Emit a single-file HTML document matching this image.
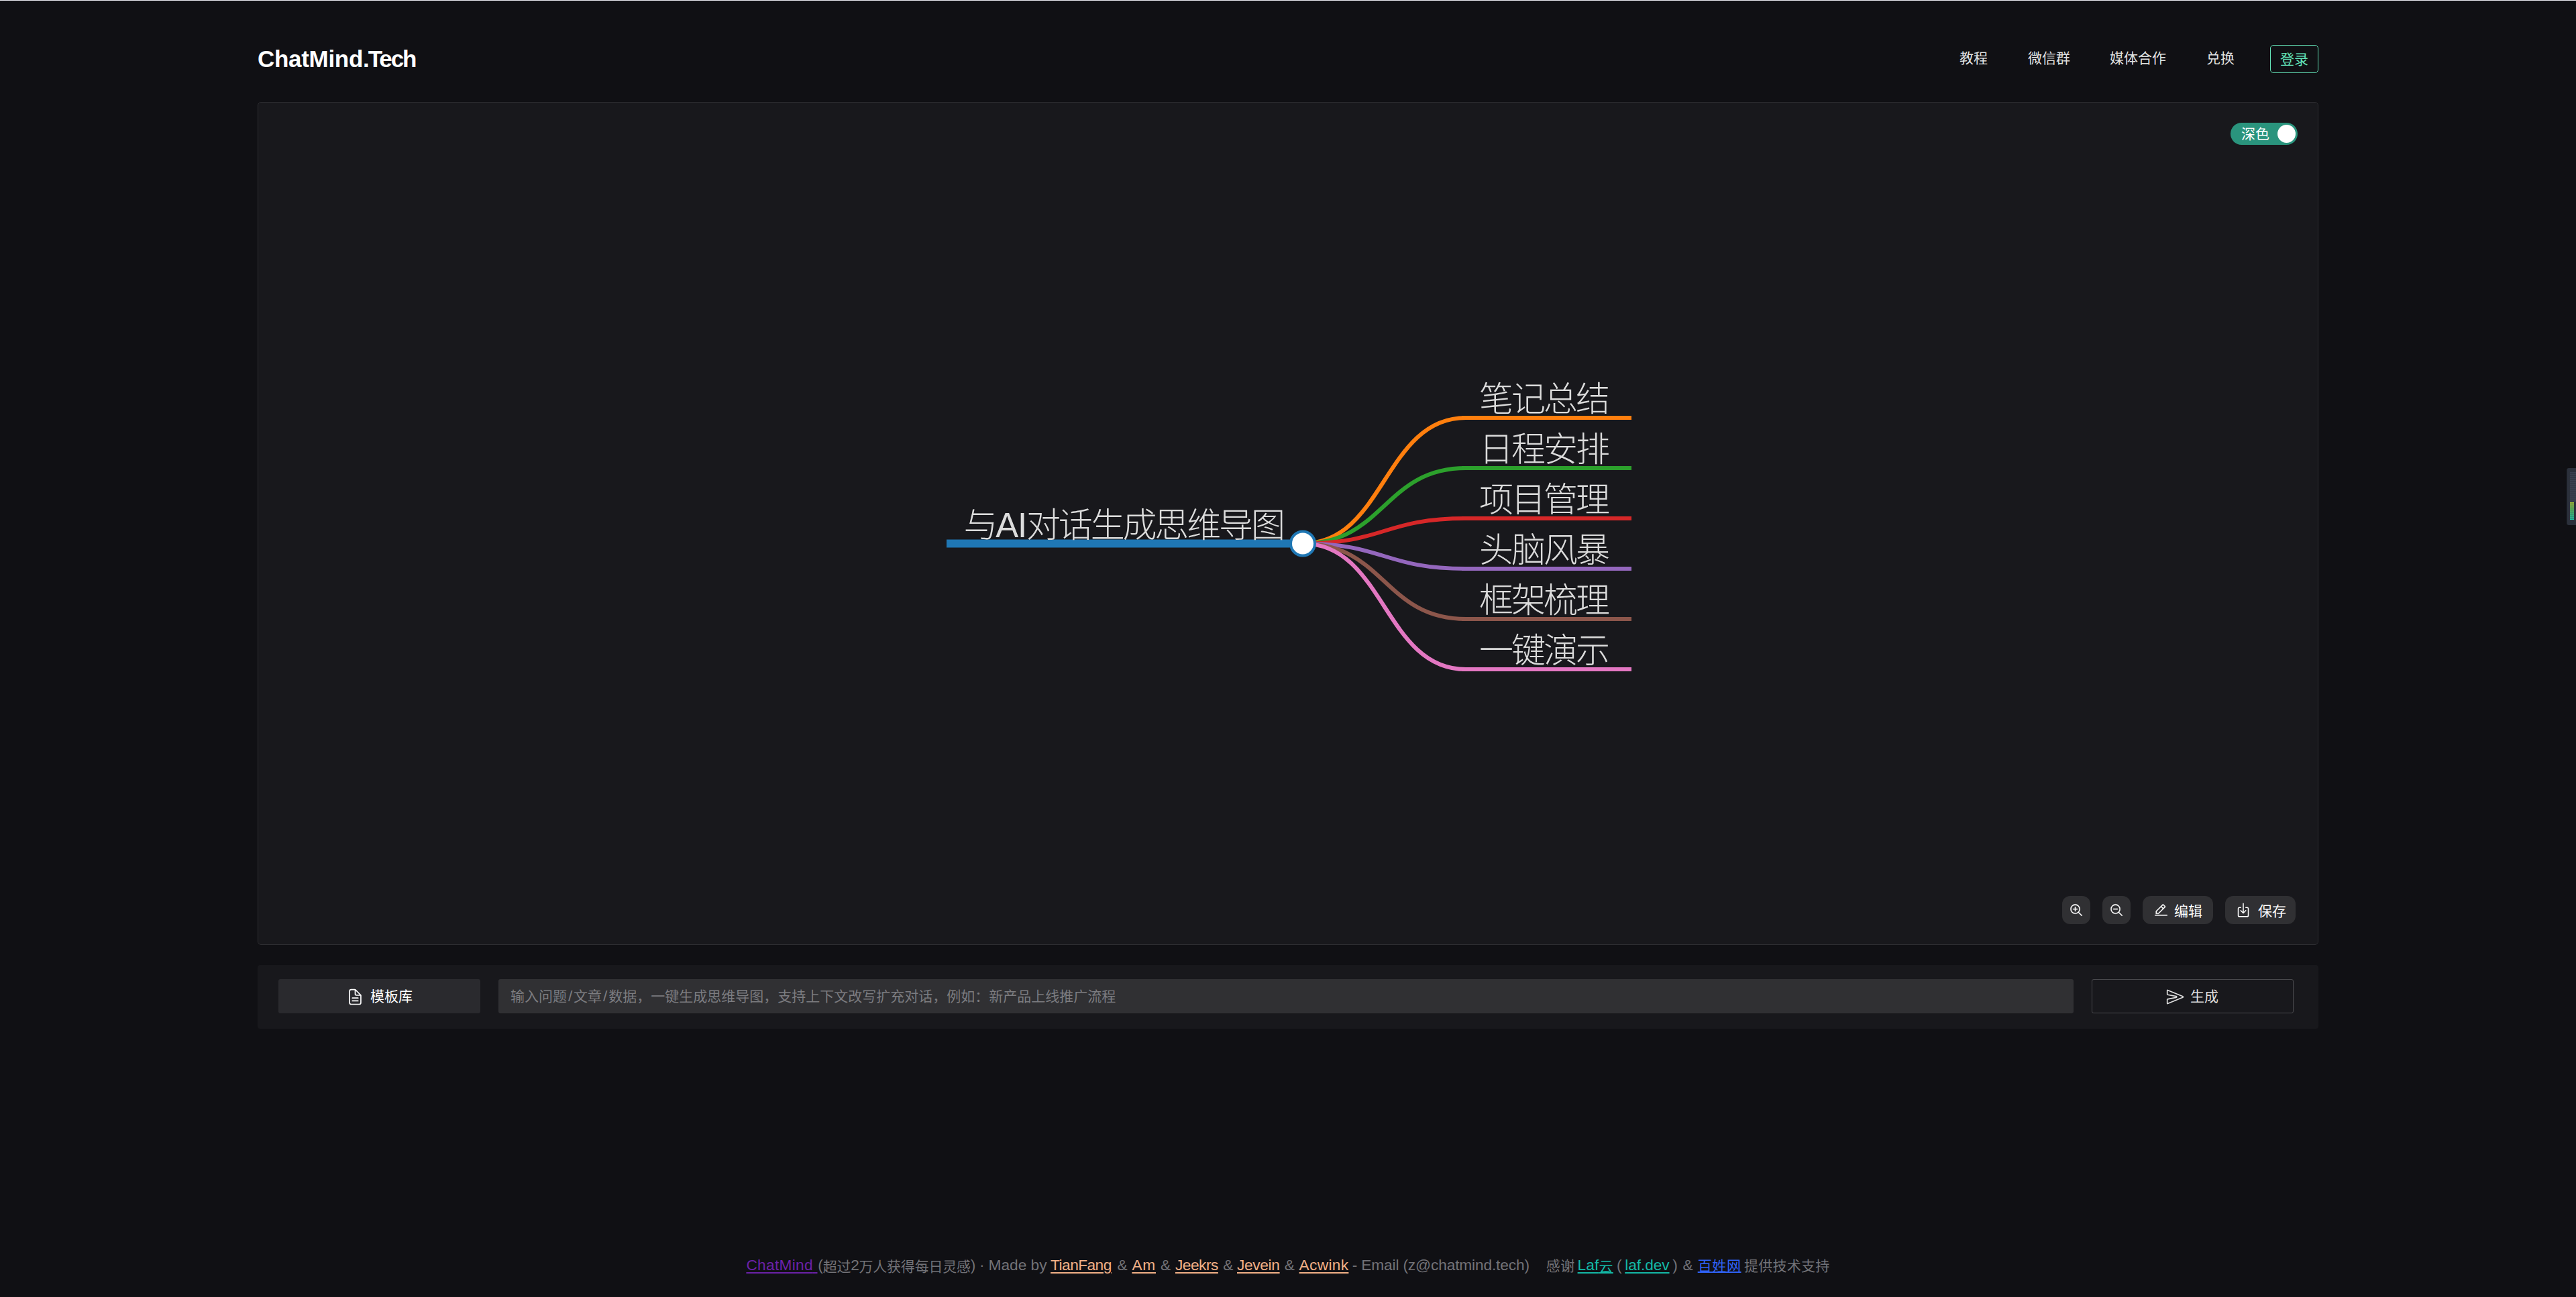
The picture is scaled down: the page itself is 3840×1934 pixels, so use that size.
<!DOCTYPE html>
<html lang="zh-CN">
<head>
<meta charset="utf-8">
<title>ChatMind.Tech</title>
<style>
*{box-sizing:border-box;margin:0;padding:0}
html,body{width:3840px;height:1934px;overflow:hidden;background:#101014}
body{position:relative;font-family:"Liberation Sans","Noto Sans CJK SC",sans-serif;color:rgba(255,255,255,.82);font-size:21px}
.abs{position:absolute}
#topline{left:0;top:0;width:3840px;height:1px;background:#ededf3}
#logo{left:384px;top:67px;height:42px;line-height:42px;font-size:35px;letter-spacing:-0.9px;font-weight:700;color:#fff;white-space:nowrap}
.nav{top:66px;height:42px;line-height:42px;font-size:21px;color:rgba(255,255,255,.9);white-space:nowrap}
#login{left:3384px;top:67px;width:72px;height:42px;border:1.5px solid #63e2b7;border-radius:5px;color:#63e2b7;font-size:21px;line-height:41px;text-align:center}
#panel{left:384px;top:152px;width:3072px;height:1257px;background:#18181c;border:1.5px solid #2d2d31;border-radius:5px}
#switch{left:3325px;top:183px;width:100px;height:33px;border-radius:17px;background:#2a947d}
#switch span{position:absolute;left:16px;top:0;line-height:33px;font-size:21px;color:#fff}
#switch i{position:absolute;right:3px;top:3px;width:27px;height:27px;border-radius:50%;background:#fff}
.tbtn{top:1336px;height:42px;border-radius:12px;background:#303033}
.ttxt{top:1337.5px;height:42px;line-height:42px;font-size:21px;color:#fff;white-space:nowrap}
#bar{left:384px;top:1438.5px;width:3072px;height:95.5px;background:#18181c;border-radius:4px}
#tpl{left:415px;top:1460px;width:301px;height:50.5px;border-radius:3px;background:#2a2a2e;color:#fff;font-size:21px;line-height:51px;text-align:center}
#inp{left:743px;top:1460px;width:2348px;height:50.5px;border-radius:3px;background:#303033;color:#7c7c80;font-size:21px;line-height:51px;padding-left:18px;white-space:nowrap}
#gen{left:3118px;top:1460px;width:301px;height:50.5px;border-radius:3px;border:1.5px solid #4a4a4e;color:#e0e0e0;font-size:21px;line-height:48px;text-align:center}
#foot{left:0;top:1868px;width:3840px;height:40px;font-size:21px;line-height:40px;color:#727277}
#foot .f{position:absolute;top:0;white-space:nowrap}
#foot .en{font-size:22.7px;font-weight:400;position:relative;top:-2px}
#foot .u{text-decoration:underline;text-decoration-thickness:2px;text-underline-offset:1px}
.lp{color:#6b21a8}.lo{color:#f2b187}.lt{color:#14b8a6}.lb{color:#2f62f5}
.mt text{font-family:"Liberation Sans","Noto Sans CJK SC",sans-serif;font-weight:300;font-size:51px;letter-spacing:-3px;fill:#dcdcdc}
.mt .la{letter-spacing:-1.3px}
.btxt{top:1460px;height:51px;line-height:51px;font-size:21px;white-space:nowrap}
.sl{font-weight:400;font-size:22.7px;margin:0 1.9px}
</style>
</head>
<body>
<div id="topline" class="abs"></div>
<div id="logo" class="abs"><span style="letter-spacing:-.3px">ChatMind</span><span style="letter-spacing:-2.1px">.Tech</span></div>
<div class="abs nav" style="left:2921px">教程</div>
<div class="abs nav" style="left:3023px">微信群</div>
<div class="abs nav" style="left:3145px">媒体合作</div>
<div class="abs nav" style="left:3289px">兑换</div>
<div id="login" class="abs">登录</div>
<div id="panel" class="abs"></div>
<div id="switch" class="abs"><span>深色</span><i></i></div>
<svg id="mm" class="abs" style="left:0;top:0" width="3840" height="1934" viewBox="0 0 3840 1934" fill="none">
<path d="M1942,810.5C2063.5,810.5 2063.5,623.0 2185,623.0" stroke="#ff7f0e" stroke-width="6"/>
<path d="M1942,810.5C2063.5,810.5 2063.5,698.0 2185,698.0" stroke="#2ca02c" stroke-width="6"/>
<path d="M1942,810.5C2063.5,810.5 2063.5,773.0 2185,773.0" stroke="#d62728" stroke-width="6"/>
<path d="M1942,810.5C2063.5,810.5 2063.5,848.0 2185,848.0" stroke="#9467bd" stroke-width="6"/>
<path d="M1942,810.5C2063.5,810.5 2063.5,923.0 2185,923.0" stroke="#8c564b" stroke-width="6"/>
<path d="M1942,810.5C2063.5,810.5 2063.5,998.0 2185,998.0" stroke="#e377c2" stroke-width="6"/>
<line x1="2179" y1="623.0" x2="2432" y2="623.0" stroke="#ff7f0e" stroke-width="6"/>
<line x1="2179" y1="698.0" x2="2432" y2="698.0" stroke="#2ca02c" stroke-width="6"/>
<line x1="2179" y1="773.0" x2="2432" y2="773.0" stroke="#d62728" stroke-width="6"/>
<line x1="2179" y1="848.0" x2="2432" y2="848.0" stroke="#9467bd" stroke-width="6"/>
<line x1="2179" y1="923.0" x2="2432" y2="923.0" stroke="#8c564b" stroke-width="6"/>
<line x1="2179" y1="998.0" x2="2432" y2="998.0" stroke="#e377c2" stroke-width="6"/>
<line x1="1411" y1="810.5" x2="1944" y2="810.5" stroke="#1f77b4" stroke-width="12"/>
<circle cx="1942" cy="810.5" r="18" fill="#fff" stroke="#1f77b4" stroke-width="4"/>
<g class="mt">
<text x="1436.5" y="800.5" style="letter-spacing:-3.15px">与<tspan class="la">AI</tspan>对话生成思维导图</text>
<text x="2205" y="613.0">笔记总结</text>
<text x="2205" y="688.0">日程安排</text>
<text x="2205" y="763.0">项目管理</text>
<text x="2205" y="838.0">头脑风暴</text>
<text x="2205" y="913.0">框架梳理</text>
<text x="2205" y="988.0">一键演示</text>
</g>
</svg>
<div class="abs tbtn" style="left:3074px;width:42px"></div>
<div class="abs tbtn" style="left:3134px;width:42px"></div>
<div class="abs tbtn" style="left:3194px;width:105px"></div>
<div class="abs tbtn" style="left:3317px;width:105px"></div>
<svg class="abs" style="left:3084.5px;top:1346.5px" width="21" height="21" viewBox="0 0 32 32" fill="#fff" stroke="#fff" stroke-width="0.5"><path d="M18 12h-4V8h-2v4H8v2h4v4h2v-4h4v-2z"/><path d="M21.448 20A10.856 10.856 0 0 0 24 13a11 11 0 1 0-11 11a10.856 10.856 0 0 0 7-2.552L27.586 29L29 27.586zM13 22a9 9 0 1 1 9-9a9.01 9.01 0 0 1-9 9z"/></svg>
<svg class="abs" style="left:3144.5px;top:1346.5px" width="21" height="21" viewBox="0 0 32 32" fill="#fff" stroke="#fff" stroke-width="0.5"><path d="M8 12h10v2H8z"/><path d="M21.448 20A10.856 10.856 0 0 0 24 13a11 11 0 1 0-11 11a10.856 10.856 0 0 0 7-2.552L27.586 29L29 27.586zM13 22a9 9 0 1 1 9-9a9.01 9.01 0 0 1-9 9z"/></svg>
<svg class="abs" style="left:3210.5px;top:1346.5px" width="21" height="21" viewBox="0 0 32 32" fill="#fff" stroke="#fff" stroke-width="0.5"><path d="M2 26h28v2H2z"/><path d="M25.4 9c.8-.8.8-2 0-2.8l-3.6-3.6c-.8-.8-2-.8-2.8 0l-15 15V24h6.4l15-15zm-5-5L24 7.6l-3 3L17.4 7l3-3zM6 22v-3.6l10-10l3.6 3.6l-10 10H6z"/></svg>
<svg class="abs" style="left:3332px;top:1345px" width="24" height="24" viewBox="0 0 512 512" fill="none" stroke="#fff" stroke-width="32" stroke-linecap="round" stroke-linejoin="round"><path d="M336 176h40a40 40 0 0140 40v208a40 40 0 01-40 40H136a40 40 0 01-40-40V216a40 40 0 0140-40h40"/><path d="M176 272l80 80 80-80M256 48v288"/></svg>
<div class="abs ttxt" style="left:3241px">编辑</div>
<div class="abs ttxt" style="left:3366px">保存</div>
<div id="bar" class="abs"></div>
<div id="tpl" class="abs"></div>
<svg class="abs" style="left:516px;top:1472.5px" width="27" height="27" viewBox="0 0 512 512" fill="none" stroke="#fff" stroke-width="32" stroke-linecap="round" stroke-linejoin="round"><path d="M416 221.25V416a48 48 0 01-48 48H144a48 48 0 01-48-48V96a48 48 0 0148-48h98.75a32 32 0 0122.62 9.37l141.26 141.26a32 32 0 019.37 22.62z"/><path d="M256 56v120a32 32 0 0032 32h120M176 288h160M176 368h160"/></svg>
<div class="abs btxt" style="left:552px;color:#fff">模板库</div>
<div id="inp" class="abs">输入问题<b class="sl">/</b>文章<b class="sl">/</b>数据，一键生成思维导图，支持上下文改写扩充对话，例如：新产品上线推广流程</div>
<div id="gen" class="abs"></div>
<svg class="abs" style="left:3229px;top:1472.6px" width="27" height="27" viewBox="0 0 512 512" fill="none" stroke="#dedede" stroke-width="32" stroke-linecap="round" stroke-linejoin="round"><path d="M470.3 271.15L43.16 447.31a7.83 7.83 0 01-11.16-7V327a8 8 0 016.51-7.86l247.62-47c17.36-3.29 17.36-28.15 0-31.44l-247.63-47a8 8 0 01-6.5-7.85V72.59c0-5.74 5.88-10.26 11.16-8L470.3 241.76a16 16 0 010 29.39z"/></svg>
<div class="abs btxt" style="left:3265px;color:#dedede">生成</div>
<div id="foot" class="abs">
<span class="f lp u" style="left:1112.4px;letter-spacing:0.30px"><b class="en">ChatMind</b><b class="en">&nbsp;</b></span>
<span class="f" style="left:1219.3px;letter-spacing:-0.23px"><b class="en">(</b>超过<b class="en">2</b>万人获得每日灵感<b class="en">)</b></span>
<span class="f" style="left:1460.0px"><b class="en">·</b></span>
<span class="f" style="left:1473.5px"><b class="en">Made by</b></span>
<span class="f lo u" style="left:1566.1px;letter-spacing:-0.54px"><b class="en">TianFang</b></span>
<span class="f" style="left:1665.6px"><b class="en">&amp;</b></span>
<span class="f lo u" style="left:1687.4px;letter-spacing:0.78px"><b class="en">Am</b></span>
<span class="f" style="left:1730.1px"><b class="en">&amp;</b></span>
<span class="f lo u" style="left:1752.0px;letter-spacing:-0.49px"><b class="en">Jeekrs</b></span>
<span class="f" style="left:1823.2px"><b class="en">&amp;</b></span>
<span class="f lo u" style="left:1844.0px;letter-spacing:-0.33px"><b class="en">Jevein</b></span>
<span class="f" style="left:1914.8px"><b class="en">&amp;</b></span>
<span class="f lo u" style="left:1936.6px;letter-spacing:0.32px"><b class="en">Acwink</b></span>
<span class="f" style="left:2015.7px;letter-spacing:-0.14px"><b class="en">- Email (z@chatmind.tech)</b></span>
<span class="f" style="left:2304.8px;letter-spacing:0.40px">感谢</span>
<span class="f lt u" style="left:2351.6px;letter-spacing:0.14px"><b class="en">Laf</b>云</span>
<span class="f" style="left:2410.1px"><b class="en">(</b></span>
<span class="f lt u" style="left:2422.2px;letter-spacing:-0.07px"><b class="en">laf.dev</b></span>
<span class="f" style="left:2493.2px"><b class="en">)</b></span>
<span class="f" style="left:2508.6px"><b class="en">&amp;</b></span>
<span class="f lb u" style="left:2530.7px;letter-spacing:0.60px">百姓网</span>
<span class="f" style="left:2600.0px;letter-spacing:0.27px">提供技术支持</span>
</div>
<div class="abs" style="left:3826px;top:698px;width:14px;height:85px;background:#2b303b;border-radius:3px 0 0 3px;border-left:1px solid #232730"></div>
<div class="abs" style="left:3831px;top:704px;width:9px;height:44px;background:repeating-linear-gradient(180deg,#3a4050 0,#3a4050 1.6px,#2b303b 1.6px,#2b303b 3px)"></div>
<div class="abs" style="left:3831px;top:749px;width:6px;height:26px;background:repeating-linear-gradient(180deg,rgba(0,0,0,0) 0,rgba(0,0,0,0) 1.8px,#2b303b 1.8px,#2b303b 3px),linear-gradient(180deg,#a6c23a,#4fbf6a 50%,#1fc7a6)"></div>
</body>
</html>
